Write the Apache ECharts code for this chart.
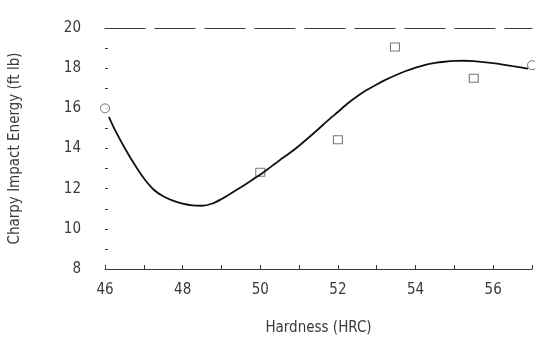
<!DOCTYPE html>
<html><head><meta charset="utf-8">
<script src="https://cdn.jsdelivr.net/npm/echarts@6/dist/echarts.min.js"></script>
<style>html,body{margin:0;padding:0;background:#fff}#c{width:535px;height:356px}</style>
</head><body><div id="c"></div>
<script>
// fitted curve
const curveX = [46.1, 46.25, 46.5, 46.75, 47.0, 47.25, 47.5, 47.75, 48.0, 48.25, 48.5, 48.75, 49.0, 49.25, 49.5, 49.75, 50.0, 50.25, 50.5, 50.75, 51.0, 51.25, 51.5, 51.75, 52.0, 52.25, 52.5, 52.75, 53.0, 53.25, 53.5, 53.75, 54.0, 54.25, 54.5, 54.75, 55.0, 55.25, 55.5, 55.75, 56.0, 56.25, 56.5, 56.75, 56.9];
const curveY = [15.58, 14.95, 14.05, 13.24, 12.52, 11.96, 11.62, 11.40, 11.26, 11.17, 11.15, 11.25, 11.48, 11.77, 12.07, 12.38, 12.70, 13.06, 13.42, 13.76, 14.14, 14.55, 14.97, 15.41, 15.82, 16.24, 16.60, 16.92, 17.19, 17.44, 17.66, 17.86, 18.03, 18.17, 18.26, 18.32, 18.36, 18.37, 18.35, 18.30, 18.25, 18.18, 18.10, 18.03, 17.98];
// measured points
const circleX = [46, 57];
const circleY = [16.0, 18.15];
const squareX = [50, 52, 53.47, 55.5];
const squareY = [12.82, 14.44, 19.05, 17.5];
const xTicks = [46, 48, 50, 52, 54, 56];
const yTicks = [8, 10, 12, 14, 16, 18, 20];

const font = 'DejaVu Sans Condensed';
const ink = '#3a3a3a';
const zip = (a, b) => a.map((v, i) => [v, b[i]]);

const chart = echarts.init(document.getElementById('c'));
chart.setOption({
  animation: false,
  backgroundColor: '#fff',
  grid: { left: 103, right: 2, top: 28, bottom: 87 },
  xAxis: [{
    type: 'value', min: 46, max: 57, interval: 1,
    name: 'Hardness (HRC)', nameLocation: 'middle', nameGap: 52,
    nameTextStyle: { fontFamily: font, fontSize: 15, color: ink },
    axisLine: { lineStyle: { color: ink, width: 1.2 } },
    axisTick: { inside: true, length: 4, lineStyle: { color: ink } },
    axisLabel: { fontFamily: font, fontSize: 15, color: ink, margin: 14,
      formatter: v => xTicks.includes(v) ? String(v) : '' },
    splitLine: { show: false }
  }, {
    type: 'value', min: 46, max: 57, position: 'top',
    axisLine: { show: true, onZero: false, lineStyle: { color: ink, width: 1.2, type: [40, 10] } },
    axisTick: { show: false }, axisLabel: { show: false }, splitLine: { show: false }
  }],
  yAxis: {
    type: 'value', min: 8, max: 20, interval: 2,
    name: 'Charpy Impact Energy (ft lb)', nameLocation: 'middle', nameGap: 82, nameRotate: 90,
    nameTextStyle: { fontFamily: font, fontSize: 15, color: ink },
    axisLine: { show: false },
    axisTick: { show: true, inside: true, length: 3, lineStyle: { color: ink } },
    minorTick: { show: true, splitNumber: 2, length: 3, lineStyle: { color: ink } },
    axisLabel: { fontFamily: font, fontSize: 15, color: ink, margin: 24,
      formatter: v => yTicks.includes(v) ? String(v) : '' },
    splitLine: { show: false }
  },
  series: [{
    type: 'line', smooth: 0.2, showSymbol: false,
    data: zip(curveX, curveY),
    lineStyle: { color: '#111', width: 1.8 }
  }, {
    type: 'scatter', symbol: 'circle', symbolSize: 9,
    data: zip(circleX, circleY),
    itemStyle: { color: '#fff', borderColor: '#555', borderWidth: 1 }
  }, {
    type: 'scatter', symbol: 'rect', symbolSize: [9, 8],
    data: zip(squareX, squareY),
    itemStyle: { color: '#fff', borderColor: '#555', borderWidth: 1 }
  }]
});
</script></body></html>
